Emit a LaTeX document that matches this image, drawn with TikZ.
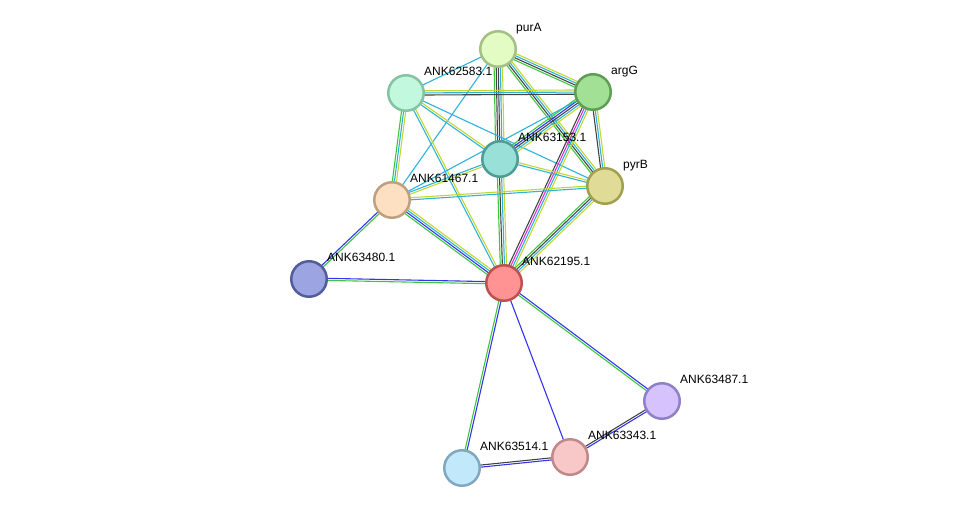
\documentclass[tikz,border=0pt]{standalone}
\usepackage{fontspec}
\setmainfont{Liberation Sans}
\usetikzlibrary{calc}
\pgfdeclarelayer{kanten}
\pgfsetlayers{kanten,main}
% Kanalfarben
\definecolor{nachbar}{HTML}{3CC83C}
\definecolor{kookk}{HTML}{3434F0}
\definecolor{koexpr}{HTML}{444444}
\definecolor{exper}{HTML}{E030E0}
\definecolor{datenb}{HTML}{2EB2DA}
\definecolor{textm}{HTML}{C2D82E}
% Knotenfarben (Fuellung / Rand)
\definecolor{purAf}{HTML}{E2FCC4}\definecolor{purAr}{HTML}{A4C084}
\definecolor{p62583f}{HTML}{C2F8DE}\definecolor{p62583r}{HTML}{84C4A2}
\definecolor{argGf}{HTML}{A2E096}\definecolor{argGr}{HTML}{5E9E56}
\definecolor{p63153f}{HTML}{98E0D8}\definecolor{p63153r}{HTML}{4E9C96}
\definecolor{pyrBf}{HTML}{E0DC98}\definecolor{pyrBr}{HTML}{A0A050}
\definecolor{p61467f}{HTML}{FDE0C2}\definecolor{p61467r}{HTML}{BEA080}
\definecolor{p63480f}{HTML}{9CA4E2}\definecolor{p63480r}{HTML}{525E9C}
\definecolor{p62195f}{HTML}{FF9292}\definecolor{p62195r}{HTML}{BE5050}
\definecolor{p63487f}{HTML}{D6C2FC}\definecolor{p63487r}{HTML}{9080C6}
\definecolor{p63343f}{HTML}{F8C8C8}\definecolor{p63343r}{HTML}{C08888}
\definecolor{p63514f}{HTML}{C2E8FC}\definecolor{p63514r}{HTML}{80A8C0}
\tikzset{
  prot/.style={circle, minimum size=35.5, inner sep=0, line width=2.5,
    fill=#1f, draw=#1r},
  lbl/.style={anchor=base west, inner sep=0, font=\fontsize{12}{14}\selectfont},
}
% Kante aus parallelen Linien: von, nach, Anzahl, Farben
\newcommand{\kante}[4]{%
  \foreach \farbe [count=\k] in {#4}{%
    \pgfmathsetmacro{\versatz}{(\k-(#3+1)/2)*2.1}%
    \draw[\farbe, line width=1.1] ($(#1.center)!\versatz pt!90:(#2.center)$)
      -- ($(#2.center)!\versatz pt!-90:(#1.center)$);
  }}
\begin{document}
\begin{tikzpicture}[x=1pt, y=-1pt, line join=round]
  \useasboundingbox (0,0) rectangle (976,514);
  % Proteine
  \node[prot=purA] (purA) at (498,49) {};
  \node[prot=p62583] (p62583) at (406,93) {};
  \node[prot=argG] (argG) at (593,92) {};
  \node[prot=p63153] (p63153) at (500,159) {};
  \node[prot=pyrB] (pyrB) at (605,186) {};
  \node[prot=p61467] (p61467) at (392,200) {};
  \node[prot=p63480] (p63480) at (309,279) {};
  \node[prot=p62195] (p62195) at (504,283) {};
  \node[prot=p63487] (p63487) at (662,401) {};
  \node[prot=p63343] (p63343) at (570,457) {};
  \node[prot=p63514] (p63514) at (462,468) {};
  % Beschriftungen
  \node[lbl] (purA-t) at ($(purA)+(18,-17.5)$) {purA};
  \node[lbl] (p62583-t) at ($(p62583)+(18,-17.5)$) {ANK62583.1};
  \node[lbl] (argG-t) at ($(argG)+(18,-17.5)$) {argG};
  \node[lbl] (p63153-t) at ($(p63153)+(18,-17.5)$) {ANK63153.1};
  \node[lbl] (pyrB-t) at ($(pyrB)+(18,-17.5)$) {pyrB};
  \node[lbl] (p61467-t) at ($(p61467)+(18,-17.5)$) {ANK61467.1};
  \node[lbl] (p63480-t) at ($(p63480)+(18,-17.5)$) {ANK63480.1};
  \node[lbl] (p62195-t) at ($(p62195)+(18,-17.5)$) {ANK62195.1};
  \node[lbl] (p63487-t) at ($(p63487)+(18,-17.5)$) {ANK63487.1};
  \node[lbl] (p63343-t) at ($(p63343)+(18,-17.5)$) {ANK63343.1};
  \node[lbl] (p63514-t) at ($(p63514)+(18,-17.5)$) {ANK63514.1};
  % Kanten
  \begin{pgfonlayer}{kanten}
    \kante{purA}{p62583}{1}{datenb}
    \kante{purA}{argG}{4}{nachbar,koexpr,datenb,textm}
    \kante{purA}{p63153}{5}{nachbar,koexpr,koexpr,datenb,textm}
    \kante{purA}{pyrB}{4}{nachbar,koexpr,datenb,textm}
    \kante{purA}{p61467}{1}{datenb}
    \kante{p62583}{argG}{3}{koexpr,datenb,textm}
    \kante{p62583}{p63153}{2}{datenb,textm}
    \kante{p62583}{pyrB}{1}{datenb}
    \kante{p62583}{p61467}{3}{nachbar,datenb,textm}
    \kante{p62583}{p62195}{2}{datenb,textm}
    \kante{argG}{p63153}{5}{nachbar,kookk,koexpr,datenb,textm}
    \kante{argG}{pyrB}{3}{koexpr,datenb,textm}
    \kante{argG}{p62195}{4}{koexpr,exper,datenb,textm}
    \kante{argG}{p61467}{1}{datenb}
    \kante{p63153}{pyrB}{2}{datenb,textm}
    \kante{p63153}{p61467}{2}{datenb,textm}
    \kante{p63153}{p62195}{4}{nachbar,koexpr,datenb,textm}
    \kante{p61467}{pyrB}{2}{datenb,textm}
    \kante{p61467}{p62195}{4}{nachbar,kookk,datenb,textm}
    \kante{p61467}{p63480}{2}{kookk,nachbar}
    \kante{p63480}{p62195}{2}{nachbar,kookk}
    \kante{pyrB}{p62195}{4}{nachbar,koexpr,datenb,textm}
    \kante{p62195}{p63514}{2}{nachbar,kookk}
    \kante{p62195}{p63343}{1}{kookk}
    \kante{p62195}{p63487}{2}{nachbar,kookk}
    \kante{p63487}{p63343}{2}{koexpr,kookk}
    \kante{p63514}{p63343}{2}{kookk,koexpr}
  \end{pgfonlayer}
\end{tikzpicture}
\end{document}
